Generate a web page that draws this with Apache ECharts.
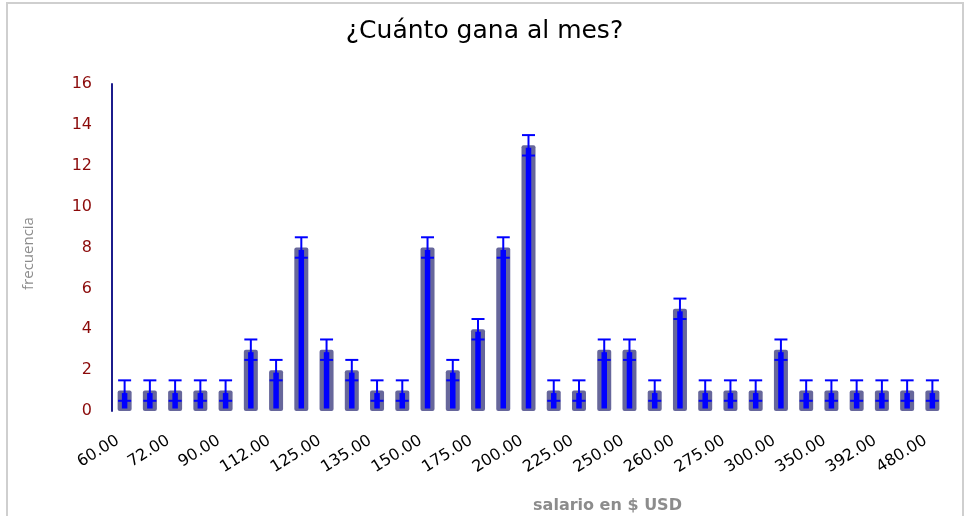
<!DOCTYPE html>
<html>
<head>
<meta charset="utf-8">
<script src="https://cdn.jsdelivr.net/npm/echarts@6/dist/echarts.min.js"></script>
<style>
    html, body { margin: 0; padding: 0; background: #fff; overflow: hidden; width: 969px; height: 516px; }
    #frame { position: absolute; left: 6px; top: 2px; width: 958px; height: 514px; border: 2px solid #cfcfcf; border-bottom: none; box-sizing: border-box; }
    #chart { position: absolute; left: 0; top: 0; width: 969px; height: 516px; }
</style>
</head>
<body>
<div id="frame"></div>
<div id="chart"></div>
<script>
// salario en $ USD (33 categorías, etiqueta cada dos)
let salarios = ['60.00', '70.00', '72.00', '80.00', '90.00', '100.00', '112.00', '120.00', '125.00', '130.00',
    '135.00', '140.00', '150.00', '160.00', '175.00', '180.00', '200.00', '210.00', '225.00', '240.00',
    '250.00', '255.00', '260.00', '270.00', '275.00', '280.00', '300.00', '320.00', '350.00', '380.00',
    '392.00', '400.00', '480.00'];
let frecuencia = [1, 1, 1, 1, 1, 3, 2, 8, 3, 2, 1, 1, 8, 2, 4, 8, 13, 1, 1, 3, 3, 1, 5, 1, 1, 1, 3, 1, 1, 1, 1, 1, 1];
let errorMargin = 0.5;
let yTicks = [0, 2, 4, 6, 8, 10, 12, 14, 16];

let detailData = frecuencia.map((v, i) => [i, v, v - errorMargin, v + errorMargin]);

let option = {
    animation: false,
    title: {
        text: '¿Cuánto gana al mes?',
        left: 'center',
        top: 14,
        textStyle: {
            fontFamily: 'DejaVu Sans',
            fontSize: 25,
            fontWeight: 'normal',
            color: '#000'
        }
    },
    grid: {
        left: 112,
        right: 24,
        top: 84,
        height: 327,
        outerBoundsMode: 'none'
    },
    xAxis: {
        type: 'category',
        data: salarios,
        name: 'salario en $ USD',
        nameLocation: 'middle',
        nameGap: 87,
        nameTextStyle: {
            fontFamily: 'DejaVu Sans',
            fontSize: 16,
            fontWeight: 'bold',
            color: '#8c8c8c',
            padding: [0, 0, 0, 158]
        },
        axisLine: { show: false },
        axisTick: { show: false },
        axisLabel: {
            interval: 1,
            rotate: 32,
            margin: 24,
            padding: [0, 8, 0, 0],
            fontFamily: 'DejaVu Sans',
            fontSize: 16,
            color: '#000'
        }
    },
    yAxis: {
        type: 'value',
        min: yTicks[0],
        max: yTicks[yTicks.length - 1],
        interval: 2,
        name: 'frecuencia',
        nameLocation: 'middle',
        nameGap: 76,
        nameTextStyle: {
            fontFamily: 'Open Sans',
            fontSize: 15,
            color: '#8c8c8c',
            padding: [0, 12, 0, 0]
        },
        axisLine: { show: true, lineStyle: { color: '#1c1c8c', width: 2 } },
        axisTick: { show: false },
        splitLine: { show: false },
        axisLabel: {
            margin: 20,
            fontFamily: 'DejaVu Sans',
            fontSize: 16,
            color: '#8b0a0a'
        }
    },
    series: [
        {
            // barra ancha (sombra)
            type: 'bar',
            data: frecuencia,
            barWidth: 14,
            itemStyle: { color: '#67679b', borderRadius: 2 },
            z: 1
        },
        {
            // barra interior + barras de error
            type: 'custom',
            data: detailData,
            z: 3,
            renderItem: function (params, api) {
                let x = api.value(0);
                let top = api.coord([x, api.value(1)]);
                let base = api.coord([x, 0]);
                let low = api.coord([x, api.value(2)]);
                let high = api.coord([x, api.value(3)]);
                let half = 6.5;
                let inner = 5.5;
                let style = { stroke: '#0000ff', lineWidth: 2 };
                return {
                    type: 'group',
                    children: [
                        {
                            type: 'rect',
                            shape: { x: top[0] - inner / 2, y: top[1] + 2.5, width: inner, height: base[1] - top[1] - 5 },
                            style: { fill: '#0000ff' }
                        },
                        { type: 'line', shape: { x1: high[0], y1: high[1], x2: low[0], y2: low[1] }, style: style },
                        { type: 'line', shape: { x1: high[0] - half, y1: high[1], x2: high[0] + half, y2: high[1] }, style: style },
                        { type: 'line', shape: { x1: low[0] - half, y1: low[1], x2: low[0] + half, y2: low[1] }, style: style }
                    ]
                };
            }
        }
    ]
};

let mychart = echarts.init(document.getElementById('chart'));
mychart.setOption(option);
</script>
</body>
</html>
